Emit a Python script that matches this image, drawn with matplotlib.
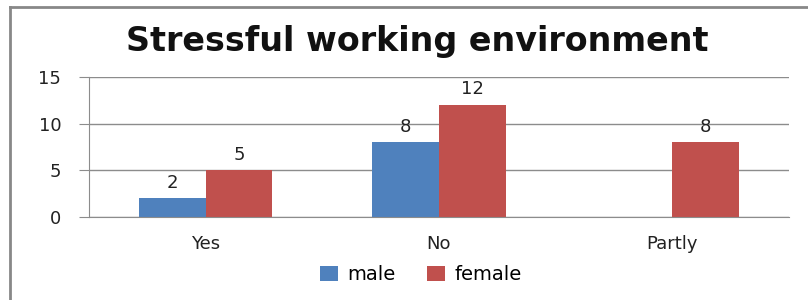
import numpy as np
import matplotlib.pyplot as plt
from matplotlib.lines import Line2D

categories = ["Yes", "No", "Partly"]
male = [2, 8, np.nan]
female = [5, 12, 8]
yticks = [0, 5, 10, 15]
title = "Stressful working environment"

blue = "#4F81BD"
red = "#C0504D"
grid_gray = "#8C8C8C"

plt.rcParams['font.family'] = ['DejaVu Sans']

fig = plt.figure(figsize=(8.08, 3.0), dpi=100)
ax = fig.add_axes([89 / 808, 1 - 217 / 300, 700 / 808, 140 / 300])

x = np.arange(len(categories))
w = 1 / 3.5
bm = ax.bar(x - w / 2, male, w, color=blue, label="male")
bf = ax.bar(x + w / 2, female, w, color=red, label="female")

for bars, vals in ((bm, male), (bf, female)):
    for b, v in zip(bars, vals):
        if np.isnan(v):
            continue
        ax.text(b.get_x() + b.get_width() / 2, v + 0.7, f"{v:g}",
                ha="center", va="bottom", fontsize=13, color="#222222")

ax.set_xlim(-0.5, len(categories) - 0.5)
ax.set_ylim(0, 15)
ax.set_yticks(yticks)
ax.set_xticks(x)
ax.set_xticklabels(categories)
ax.tick_params(axis="x", length=0, pad=13, labelsize=13, labelcolor="#222222")
ax.tick_params(axis="y", length=7, color=grid_gray, pad=13, labelsize=13,
               labelcolor="#222222")
ax.yaxis.grid(True, color=grid_gray, linewidth=1)
ax.set_axisbelow(True)
for s in ("top", "right"):
    ax.spines[s].set_visible(False)
for s in ("left", "bottom"):
    ax.spines[s].set_color(grid_gray)

fig.text(417 / 808, 1 - 42 / 300, title, ha="center", va="center",
         fontsize=24, fontweight="bold", color="#111111")

fig.legend(handles=[bm, bf], labels=["male", "female"], loc="center",
           bbox_to_anchor=(421 / 808, 1 - 275 / 300), ncol=2, frameon=False,
           fontsize=14, handlelength=0.9, handleheight=0.8, columnspacing=1.6,
           handletextpad=0.5)

# chart frame (cut off on the right and bottom)
fig.add_artist(Line2D([10 / 808, 10 / 808], [0, 1 - 7 / 300], color="#888888", lw=2))
fig.add_artist(Line2D([10 / 808, 1], [1 - 7 / 300, 1 - 7 / 300], color="#888888", lw=2))

fig.savefig("out.png", dpi=100)
